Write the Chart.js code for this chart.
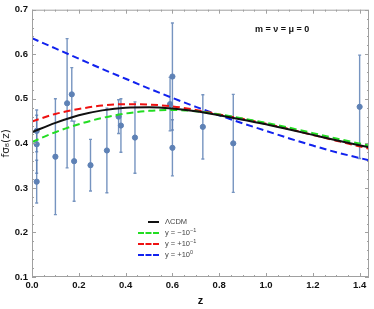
<!DOCTYPE html>
<html lang="en">
<head>
  <meta charset="UTF-8">
  <title>fsigma8 growth data</title>
  <script src="https://cdn.jsdelivr.net/npm/chart.js"></script>
  <style>
    body { margin: 0; background: #ffffff; font-family: 'Liberation Sans', Arial, sans-serif; }
    .wrap { position: relative; width: 374px; height: 309px; }
    canvas { position: absolute; left: 0; top: 0; }
    .note { position: absolute; left: 255px; top: 24px; font-size: 9px; font-weight: bold; color: #111; }
    .legend { position: absolute; left: 136px; top: 216px; font-size: 7.5px; color: #444; }
    .legend .row { position: relative; height: 11px; line-height: 11px; }
    .legend .swatch { position: absolute; left: 2px; top: 5px; width: 21px; height: 0; border-top: 2px dashed; }
    .legend .solid { border-top-style: solid; left: 12px; width: 11px; }
    .legend .lab { position: absolute; left: 29px; top: 0; white-space: nowrap; }
    .legend sup { font-size: 5.5px; vertical-align: 3px; line-height: 0; }
  </style>
</head>
<body>
  <div class="wrap">
    <canvas id="chart" width="374" height="309"></canvas>
    <div class="note">m = ν = μ = 0</div>
    <div class="legend">
      <div class="row"><span class="swatch solid" style="border-color:#111"></span><span class="lab">ΛCDM</span></div>
      <div class="row"><span class="swatch" style="border-color:#22dd22"></span><span class="lab">y = −10<sup>−1</sup></span></div>
      <div class="row"><span class="swatch" style="border-color:#ee1111"></span><span class="lab">y = +10<sup>−1</sup></span></div>
      <div class="row"><span class="swatch" style="border-color:#1122ee"></span><span class="lab">y = +10<sup>0</sup></span></div>
    </div>
  </div>

  <script>
    // observed f*sigma8 points
    const zData = [0.02, 0.02, 0.02, 0.10, 0.15, 0.17, 0.18, 0.38, 0.25, 0.37, 0.32, 0.59, 0.44, 0.60, 0.73, 0.60, 0.86, 1.40];
    const fs8Data = [0.428, 0.398, 0.314, 0.370, 0.490, 0.510, 0.360, 0.440, 0.351, 0.460, 0.384, 0.488, 0.413, 0.390, 0.437, 0.550, 0.400, 0.482];
    const fs8Err = [0.047, 0.065, 0.048, 0.130, 0.145, 0.060, 0.090, 0.060, 0.058, 0.038, 0.095, 0.060, 0.080, 0.063, 0.072, 0.120, 0.110, 0.116];

    // model curves
    const zGrid = [0, 0.1, 0.2, 0.3, 0.4, 0.5, 0.6, 0.7, 0.8, 0.9, 1.0, 1.1, 1.2, 1.3, 1.44];
    const lcdm = [0.425, 0.446, 0.463, 0.474, 0.480, 0.481, 0.478, 0.472, 0.463, 0.453, 0.443, 0.431, 0.419, 0.407, 0.391];
    const yMinus1 = [0.403, 0.425, 0.443, 0.457, 0.467, 0.473, 0.475, 0.472, 0.465, 0.456, 0.446, 0.435, 0.423, 0.411, 0.395];
    const yPlus1 = [0.449, 0.466, 0.477, 0.485, 0.488, 0.487, 0.483, 0.475, 0.465, 0.455, 0.444, 0.432, 0.419, 0.406, 0.388];
    const yPlus10 = [0.636, 0.613, 0.590, 0.567, 0.545, 0.523, 0.502, 0.482, 0.463, 0.445, 0.428, 0.411, 0.395, 0.380, 0.362];

    const xTicks = [0, 0.2, 0.4, 0.6, 0.8, 1.0, 1.2, 1.4];
    const yTicks = [0.1, 0.2, 0.3, 0.4, 0.5, 0.6, 0.7];

    const pointColor = 'rgb(94,129,181)';

    function curve(values) {
      return zGrid.map((z, i) => ({ x: z, y: values[i] }));
    }

    // error bars under the points
    const errorBars = {
      id: 'errorBars',
      beforeDatasetsDraw(chart) {
        const ctx = chart.ctx;
        const xs = chart.scales.x, ys = chart.scales.y;
        ctx.save();
        ctx.strokeStyle = 'rgba(94,129,181,0.85)';
        ctx.lineWidth = 1.4;
        zData.forEach((z, i) => {
          const px = xs.getPixelForValue(z);
          const top = ys.getPixelForValue(fs8Data[i] + fs8Err[i]);
          const bot = ys.getPixelForValue(fs8Data[i] - fs8Err[i]);
          ctx.beginPath();
          ctx.moveTo(px, top); ctx.lineTo(px, bot);
          ctx.moveTo(px - 1.5, top); ctx.lineTo(px + 1.5, top);
          ctx.moveTo(px - 1.5, bot); ctx.lineTo(px + 1.5, bot);
          ctx.stroke();
        });
        ctx.restore();
      }
    };

    // Mathematica-like frame with inward ticks on every side
    const frame = {
      id: 'frame',
      afterDraw(chart) {
        const ctx = chart.ctx;
        const a = chart.chartArea;
        const xs = chart.scales.x, ys = chart.scales.y;
        ctx.save();
        ctx.strokeStyle = '#a0a0a0';
        ctx.lineWidth = 1;
        ctx.strokeRect(a.left + 0.5, a.top + 0.5, a.right - a.left - 1, a.bottom - a.top - 1);
        ctx.beginPath();
        for (let k = 0; k <= 28; k++) {
          const v = k * 0.05;
          const len = k % 4 === 0 ? 4 : 2;
          const px = Math.round(xs.getPixelForValue(v)) + 0.5;
          ctx.moveTo(px, a.bottom); ctx.lineTo(px, a.bottom - len);
          ctx.moveTo(px, a.top); ctx.lineTo(px, a.top + len);
        }
        for (let k = 0; k <= 30; k++) {
          const v = 0.1 + k * 0.02;
          const len = k % 5 === 0 ? 4 : 2;
          const py = Math.round(ys.getPixelForValue(v)) + 0.5;
          ctx.moveTo(a.left, py); ctx.lineTo(a.left + len, py);
          ctx.moveTo(a.right, py); ctx.lineTo(a.right - len, py);
        }
        ctx.stroke();
        ctx.restore();
      }
    };

    const dashed = [7, 4];

    new Chart(document.getElementById('chart'), {
      type: 'scatter',
      data: {
        datasets: [
          { type: 'line', label: 'ΛCDM', data: curve(lcdm), borderColor: '#111111', borderWidth: 2, pointRadius: 0, cubicInterpolationMode: 'monotone' },
          { type: 'line', label: 'y = −10⁻¹', data: curve(yMinus1), borderColor: '#22dd22', borderWidth: 2, borderDash: dashed, pointRadius: 0, cubicInterpolationMode: 'monotone' },
          { type: 'line', label: 'y = +10⁻¹', data: curve(yPlus1), borderColor: '#ee1111', borderWidth: 2, borderDash: dashed, pointRadius: 0, cubicInterpolationMode: 'monotone' },
          { type: 'line', label: 'y = +10⁰', data: curve(yPlus10), borderColor: '#1122ee', borderWidth: 2, borderDash: dashed, pointRadius: 0, cubicInterpolationMode: 'monotone' },
          { label: 'data', data: zData.map((z, i) => ({ x: z, y: fs8Data[i] })), backgroundColor: pointColor, borderColor: pointColor, pointRadius: 2.6 }
        ]
      },
      options: {
        responsive: false,
        animation: false,
        layout: { padding: { top: 5, right: 2, left: 0, bottom: 0 } },
        plugins: { legend: { display: false }, tooltip: { enabled: false } },
        scales: {
          x: {
            type: 'linear', min: 0, max: 1.44,
            afterFit(s) { s.height = 32; },
            afterBuildTicks(s) { s.ticks = xTicks.map(v => ({ value: v })); },
            grid: { display: false, drawTicks: false },
            border: { display: false },
            ticks: { padding: 3, color: '#111', font: { family: 'Liberation Sans', size: 9.5, weight: 'bold' }, callback: v => v.toFixed(1), maxRotation: 0 },
            title: { display: true, text: 'z', color: '#111', padding: { top: 2, bottom: 1 }, font: { family: 'Liberation Sans', size: 11, weight: 'bold' } }
          },
          y: {
            min: 0.1, max: 0.7,
            afterFit(s) { s.width = 32; },
            afterBuildTicks(s) { s.ticks = yTicks.map(v => ({ value: v })); },
            grid: { display: false, drawTicks: false },
            border: { display: false },
            ticks: { padding: 4, color: '#111', font: { family: 'Liberation Sans', size: 9.5, weight: 'bold' }, callback: v => v.toFixed(1) },
            title: { display: true, text: 'fσ₈(z)', color: '#222', padding: { top: 0, bottom: 0 }, font: { family: 'DejaVu Sans', size: 10.5 } }
          }
        }
      },
      plugins: [errorBars, frame]
    });
  </script>
</body>
</html>
